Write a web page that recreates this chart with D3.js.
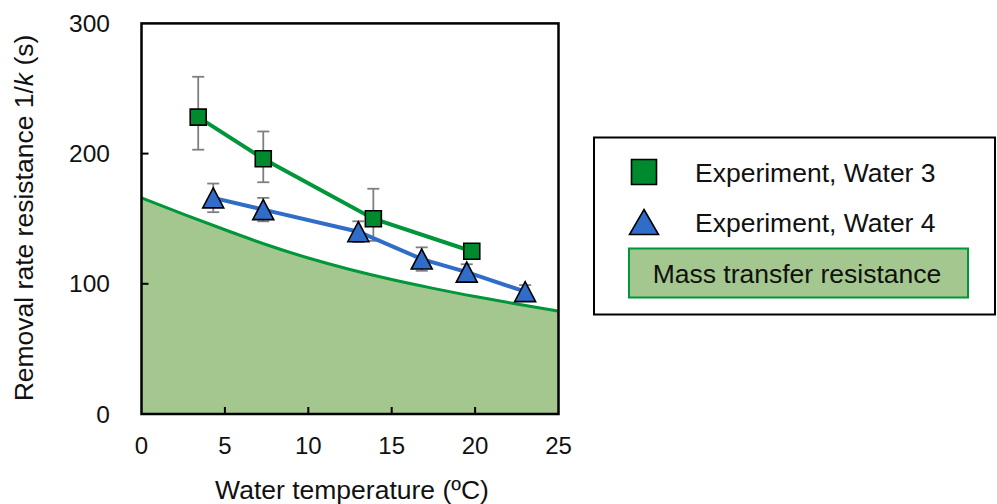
<!DOCTYPE html>
<html>
<head>
<meta charset="utf-8">
<script src="https://cdn.jsdelivr.net/npm/d3@7/dist/d3.min.js"></script>
<style>
  body { margin: 0; background: #fff; }
  svg { display: block; font-family: "Liberation Sans", Arial, sans-serif; }
</style>
</head>
<body>
<div id="chart"></div>
<script>
// data
var temp3 = [3.4, 7.3, 13.9, 19.8];
var res3 = [228, 196, 150, 125];
var err3Up = [31, 21, 23, 3];
var err3Down = [25, 18, 17, 3];

var temp4 = [4.3, 7.3, 13.0, 16.8, 19.5, 23.0];
var res4 = [166, 157, 140, 119, 109, 94];
var err4 = [11, 9, 8, 9, 6, 5];

// mass transfer resistance curve, sampled
var mtTemp = [0, 2.5, 5, 7.5, 10, 12.5, 15, 17.5, 20, 22.5, 25];
var mtRes = [166, 153.5, 141.5, 130, 119.8, 111, 103.3, 96.5, 90.2, 84.5, 79];

var xTicks = [0, 5, 10, 15, 20, 25];
var yTicks = [0, 100, 200, 300];
var legendLabels = ["Experiment, Water 3", "Experiment, Water 4", "Mass transfer resistance"];

var W = 997, H = 504;
var pL = 141.5, pR = 558.5, pT = 23.4, pB = 414;

var svg = d3.select("#chart").append("svg")
    .attr("width", W).attr("height", H);

var x = d3.scaleLinear().domain([0, 25]).range([pL, pR]);
var y = d3.scaleLinear().domain([0, 300]).range([pB, pT]);

var green = "#00963a", greenMark = "#008a2e", blue = "#2f6dc8", fillGreen = "#a4c78f";

svg.append("clipPath").attr("id", "plot")
  .append("rect").attr("x", pL).attr("y", pT)
  .attr("width", pR - pL).attr("height", pB - pT);

var mt = mtTemp.map(function (t, i) { return {t: t, r: mtRes[i]}; });

// shaded area
svg.append("path")
    .datum(mt)
    .attr("clip-path", "url(#plot)")
    .attr("fill", fillGreen)
    .attr("d", d3.area().curve(d3.curveNatural)
        .x(function (d) { return x(d.t); })
        .y0(y(0))
        .y1(function (d) { return y(d.r); }));

svg.append("path")
    .datum(mt)
    .attr("clip-path", "url(#plot)")
    .attr("fill", "none").attr("stroke", green).attr("stroke-width", 3)
    .attr("d", d3.line().curve(d3.curveNatural)
        .x(function (d) { return x(d.t); })
        .y(function (d) { return y(d.r); }));

// one experiment series
function drawSeries(ts, rs, up, down, color, fill, shape) {
    var pts = ts.map(function (t, i) { return {t: t, r: rs[i], up: up[i], down: down[i]}; });
    var g = svg.append("g");

    var eb = g.selectAll(".eb").data(pts).enter().append("g")
        .attr("stroke", "#7f7f7f").attr("stroke-width", 1.8);
    eb.append("line")
        .attr("x1", function (d) { return x(d.t); })
        .attr("x2", function (d) { return x(d.t); })
        .attr("y1", function (d) { return y(d.r + d.up); })
        .attr("y2", function (d) { return y(d.r - d.down); });
    eb.append("line")
        .attr("x1", function (d) { return x(d.t) - 6; })
        .attr("x2", function (d) { return x(d.t) + 6; })
        .attr("y1", function (d) { return y(d.r + d.up); })
        .attr("y2", function (d) { return y(d.r + d.up); });
    eb.append("line")
        .attr("x1", function (d) { return x(d.t) - 6; })
        .attr("x2", function (d) { return x(d.t) + 6; })
        .attr("y1", function (d) { return y(d.r - d.down); })
        .attr("y2", function (d) { return y(d.r - d.down); });

    g.append("path").datum(pts)
        .attr("fill", "none").attr("stroke", color).attr("stroke-width", 4)
        .attr("d", d3.line()
            .x(function (d) { return x(d.t); })
            .y(function (d) { return y(d.r); }));

    g.selectAll(".mk").data(pts).enter().append("path")
        .attr("transform", function (d) { return "translate(" + x(d.t) + "," + y(d.r) + ")"; })
        .attr("d", shape)
        .attr("fill", fill).attr("stroke", "#000").attr("stroke-width", 1.6);
}

function square(s) { return "M" + (-s) + "," + (-s) + "h" + (2 * s) + "v" + (2 * s) + "h" + (-2 * s) + "Z"; }
function triangle(w, h) { return "M0," + (-h / 2) + "L" + (w / 2) + "," + (h / 2) + "L" + (-w / 2) + "," + (h / 2) + "Z"; }

drawSeries(temp3, res3, err3Up, err3Down, green, greenMark, square(8));
drawSeries(temp4, res4, err4, err4, blue, blue, triangle(21, 20));

// ticks (inside)
svg.selectAll(".xt").data(xTicks.slice(1, -1)).enter().append("line")
    .attr("x1", function (d) { return x(d); }).attr("x2", function (d) { return x(d); })
    .attr("y1", pB).attr("y2", pB - 7)
    .attr("stroke", "#000").attr("stroke-width", 2);
svg.selectAll(".yt").data(yTicks.slice(1, -1)).enter().append("line")
    .attr("y1", function (d) { return y(d); }).attr("y2", function (d) { return y(d); })
    .attr("x1", pL).attr("x2", pL + 7)
    .attr("stroke", "#000").attr("stroke-width", 2);

// frame
svg.append("rect")
    .attr("x", pL).attr("y", pT)
    .attr("width", pR - pL).attr("height", pB - pT)
    .attr("fill", "none").attr("stroke", "#000").attr("stroke-width", 2.5);

// tick labels
svg.selectAll(".xl").data(xTicks).enter().append("text")
    .attr("x", function (d) { return x(d); }).attr("y", 454)
    .attr("text-anchor", "middle").attr("font-size", 24).attr("fill", "#111")
    .text(function (d) { return d; });
svg.selectAll(".yl").data(yTicks).enter().append("text")
    .attr("x", 110).attr("y", function (d) { return y(d) + 8.6; })
    .attr("text-anchor", "end").attr("font-size", 24.5).attr("fill", "#111")
    .text(function (d) { return d; });

// axis titles
svg.append("text")
    .attr("x", (pL + pR) / 2 + 2).attr("y", 498.5)
    .attr("text-anchor", "middle").attr("font-size", 26.5).attr("fill", "#111")
    .text("Water temperature (ºC)");

var yt = svg.append("text")
    .attr("transform", "translate(33,218) rotate(-90)")
    .attr("text-anchor", "middle").attr("font-size", 26.5).attr("fill", "#111");
yt.append("tspan").text("Removal rate resistance 1/");
yt.append("tspan").attr("font-style", "italic").text("k");
yt.append("tspan").text(" (s)");

// legend
var lg = svg.append("g");
lg.append("rect").attr("x", 594).attr("y", 137.5).attr("width", 401).attr("height", 177)
    .attr("fill", "#fff").attr("stroke", "#000").attr("stroke-width", 2);
lg.append("path").attr("transform", "translate(644,172)").attr("d", square(12.5))
    .attr("fill", greenMark).attr("stroke", "#000").attr("stroke-width", 1.6);
lg.append("path").attr("transform", "translate(644,222)").attr("d", triangle(29, 25))
    .attr("fill", blue).attr("stroke", "#000").attr("stroke-width", 1.6);
lg.append("rect").attr("x", 629).attr("y", 248.5).attr("width", 339).attr("height", 49)
    .attr("fill", fillGreen).attr("stroke", green).attr("stroke-width", 2);
lg.append("text").attr("x", 695).attr("y", 181.5).attr("font-size", 26.5).attr("fill", "#111").text(legendLabels[0]);
lg.append("text").attr("x", 695).attr("y", 231.5).attr("font-size", 26.5).attr("fill", "#111").text(legendLabels[1]);
lg.append("text").attr("x", 797).attr("y", 282.5).attr("text-anchor", "middle").attr("font-size", 26.5).attr("fill", "#111").text(legendLabels[2]);
</script>
</body>
</html>
